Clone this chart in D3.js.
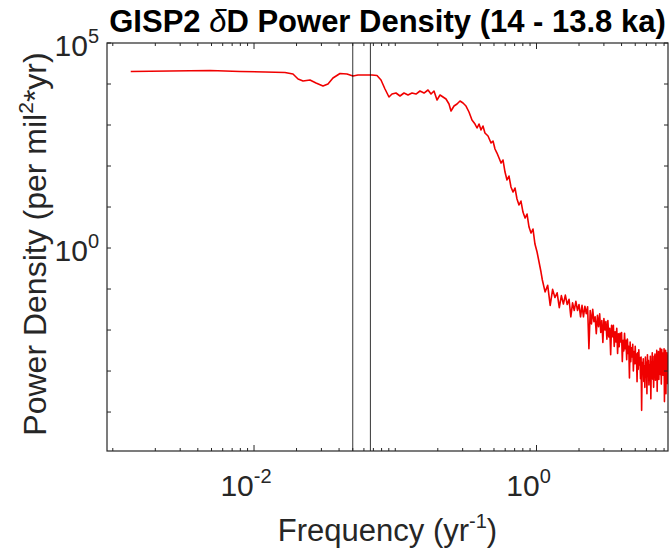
<!DOCTYPE html>
<html>
<head>
<meta charset="utf-8">
<script src="https://cdn.jsdelivr.net/npm/d3@7"></script>
<style>
	body { margin: 0; background: #fff; }
	text { font-family: Arial, "Liberation Sans", Helvetica, sans-serif; fill: #262626; }
</style>
</head>
<body>
<svg id="chart" width="671" height="550"></svg>
<script>
// smooth low-frequency part of the spectrum (yr^-1, per mil^2*yr)
const freqLow = [0.00134, 0.00254, 0.00489, 0.00796, 0.01197, 0.01656, 0.01887, 0.0205, 0.02224, 0.0249,
	0.02746, 0.03078, 0.03339, 0.03622, 0.04062, 0.04552, 0.0502, 0.05447, 0.06107, 0.06846,
	0.07423, 0.07925, 0.08458, 0.09024, 0.09481, 0.1012, 0.108, 0.1153, 0.1231, 0.1313,
	0.1402, 0.1496, 0.1598, 0.1705, 0.1791, 0.188, 0.1975, 0.2074, 0.2178, 0.2287,
	0.2401, 0.2481, 0.2606, 0.2736, 0.2873, 0.3017, 0.3168, 0.3326, 0.3492, 0.3669,
	0.3793, 0.3917, 0.4046, 0.4178, 0.4315, 0.4536, 0.4764, 0.4921, 0.5082, 0.525,
	0.5429, 0.5608, 0.5793, 0.5984, 0.6181, 0.6385, 0.6595, 0.6817, 0.7042, 0.7275,
	0.7515, 0.7762, 0.8018, 0.8298, 0.857, 0.8851, 0.9142, 0.9443, 0.975, 1.009,
	1.042, 1.076];
const powerLow = [20200, 20750, 21340, 20200, 19630, 19050, 17540, 13240, 11830, 12520,
	10570, 8940, 10000, 14000, 18030, 17540, 15670, 16600, 16600, 16600,
	16110, 12520, 7550, 4820, 5700, 6030, 5100, 6030, 5390, 6030,
	5700, 6750, 6030, 7140, 5700, 6750, 4070, 5390, 4820, 4310,
	3250, 2195, 2905, 3250, 3850, 3440, 2905, 2075, 1324, 1057,
	845, 1057, 755, 946, 638, 540, 364, 407, 260, 207,
	157, 118, 140, 71.4, 45.6, 57, 30.8, 23.2, 29.1, 15.7,
	11.2, 14.0, 7.55, 5.39, 6.75, 3.25, 2.32, 2.91, 1.25, 0.80,
	0.456, 0.260];

// noisy high-frequency tail
const freqHigh = [1.10, 1.15, 1.20, 1.25, 1.30, 1.35, 1.40, 1.45, 1.50, 1.55,
	1.60, 1.65, 1.70, 1.75, 1.80, 1.85, 1.90, 1.95, 2.00, 2.05,
	2.10, 2.15, 2.20, 2.25, 2.30, 2.35, 2.40, 2.45, 2.50, 2.55,
	2.60, 2.65, 2.70, 2.75, 2.80, 2.85, 2.90, 2.95, 3.00, 3.05,
	3.10, 3.15, 3.20, 3.25, 3.30, 3.35, 3.40, 3.45, 3.50, 3.55,
	3.60, 3.65, 3.70, 3.75, 3.80, 3.85, 3.90, 3.95, 4.00, 4.05,
	4.10, 4.15, 4.20, 4.25, 4.30, 4.35, 4.40, 4.45, 4.50, 4.55,
	4.60, 4.65, 4.70, 4.75, 4.80, 4.85, 4.90, 4.95, 5.00, 5.05,
	5.10, 5.15, 5.20, 5.25, 5.30, 5.35, 5.40, 5.45, 5.50, 5.55,
	5.60, 5.65, 5.70, 5.75, 5.80, 5.85, 5.90, 5.95, 6.00, 6.05,
	6.10, 6.15, 6.20, 6.25, 6.30, 6.35, 6.40, 6.45, 6.50, 6.55,
	6.60, 6.65, 6.70, 6.75, 6.80, 6.85, 6.90, 6.95, 7.00, 7.05,
	7.10, 7.15, 7.20, 7.25, 7.30, 7.35, 7.40, 7.45, 7.50, 7.55,
	7.60, 7.65, 7.70, 7.75, 7.80, 7.85, 7.90, 7.95, 8.00, 8.05,
	8.10, 8.15, 8.20, 8.25, 8.30, 8.35, 8.40, 8.45, 8.50, 8.55,
	8.60];
const powerHigh = [0.166, 0.085, 0.123, 0.040, 0.098, 0.062, 0.081, 0.035, 0.069, 0.043,
	0.071, 0.042, 0.056, 0.021, 0.046, 0.030, 0.050, 0.030, 0.042, 0.021,
	0.040, 0.021, 0.038, 0.025, 0.037, 0.0035, 0.030, 0.014, 0.032, 0.016,
	0.021, 0.0081, 0.023, 0.012, 0.025, 0.0087, 0.017, 0.0050, 0.019, 0.010,
	0.016, 0.0060, 0.017, 0.0068, 0.011, 0.0025, 0.013, 0.0069, 0.013, 0.0040,
	0.0091, 0.0051, 0.011, 0.0027, 0.0081, 0.0039, 0.0083, 0.0051, 0.0087, 0.0017,
	0.0056, 0.0031, 0.0083, 0.0035, 0.0056, 0.0019, 0.0060, 0.0027, 0.0040, 0.00068,
	0.0051, 0.0017, 0.0037, 0.0022, 0.0045, 0.0010, 0.0030, 0.0015, 0.0040, 0.0015,
	0.0026, 0.00055, 0.0028, 0.0011, 0.0033, 0.0014, 0.0021, 0.00065, 0.0022, 0.00011,
	0.0016, 0.00085, 0.0020, 0.00056, 0.0013, 0.00040, 0.0022, 0.00071, 0.0016, 0.00028,
	0.0025, 0.00089, 0.0018, 0.00046, 0.0014, 0.00066, 0.0023, 0.00021, 0.0017, 0.00087,
	0.0028, 0.00063, 0.0014, 0.00040, 0.0023, 0.0010, 0.0026, 0.00060, 0.0017, 0.00087,
	0.0032, 0.00032, 0.0021, 0.0012, 0.0030, 0.00062, 0.0025, 0.0011, 0.0036, 0.00081,
	0.0021, 0.00048, 0.0034, 0.0011, 0.0028, 0.00079, 0.0020, 0.0010, 0.0035, 0.00018,
	0.0025, 0.00063, 0.0032, 0.00028, 0.0022, 0.00089, 0.0028, 0.00050, 0.0022, 0.0011,
	0.0025];

// band edges marked with thin black lines (1/20 and 1/15 yr^-1)
const markerFreqs = [1 / 20, 1 / 15];

const xLabelTicks = [1e-2, 1e0];
const yLabelTicks = [1e0, 1e5];

const margin = { top: 43, right: 3, bottom: 99, left: 107 },
	width = 671,
	height = 550;

const svg = d3.select('#chart');

const x = d3.scaleLog()
	.domain([0.00091, 8.53])
	.range([margin.left, width - margin.right]);

const y = d3.scaleLog()
	.domain([Math.pow(10, -4.95), 1e5])
	.range([height - margin.bottom, margin.top]);

const [x0, x1] = x.range(),
	[y0, y1] = y.range();

svg.append('defs').append('clipPath')
	.attr('id', 'plotClip')
	.append('rect')
	.attr('x', x0).attr('y', y1)
	.attr('width', x1 - x0).attr('height', y0 - y1);

// spectrum
const series = d3.zip(freqLow, powerLow).concat(d3.zip(freqHigh, powerHigh));

const line = d3.line()
	.x(d => x(d[0]))
	.y(d => y(d[1]));

svg.append('path')
	.datum(series)
	.attr('clip-path', 'url(#plotClip)')
	.attr('fill', 'none')
	.attr('stroke', '#f00000')
	.attr('stroke-width', 1.6)
	.attr('stroke-linejoin', 'round')
	.attr('d', line);

// vertical marker lines
svg.selectAll('line.marker')
	.data(markerFreqs)
	.enter().append('line')
	.attr('class', 'marker')
	.attr('x1', d => x(d)).attr('x2', d => x(d))
	.attr('y1', y0).attr('y2', y1)
	.attr('stroke', '#000')
	.attr('stroke-width', 0.8);

// ticks, inward on all four sides
const xTicks = [];
d3.range(-4, 2).forEach(e => {
	d3.range(1, 10).forEach(k => {
		const v = k * Math.pow(10, e);
		if (v >= x.domain()[0] && v <= x.domain()[1]) xTicks.push(v);
	});
});
const isMajorX = v => xLabelTicks.some(t => Math.abs(t - v) / t < 1e-9);

const yTicks = d3.range(-4, 6).map(e => Math.pow(10, e));

const tickG = svg.append('g')
	.attr('stroke', '#262626')
	.attr('stroke-width', 1);

xTicks.forEach(v => {
	const len = isMajorX(v) ? 6 : 3;
	tickG.append('line')
		.attr('x1', x(v)).attr('x2', x(v))
		.attr('y1', y0).attr('y2', y0 - len);
	tickG.append('line')
		.attr('x1', x(v)).attr('x2', x(v))
		.attr('y1', y1).attr('y2', y1 + len);
});

yTicks.forEach(v => {
	tickG.append('line')
		.attr('x1', x0).attr('x2', x0 + 4)
		.attr('y1', y(v)).attr('y2', y(v));
	tickG.append('line')
		.attr('x1', x1).attr('x2', x1 - 4)
		.attr('y1', y(v)).attr('y2', y(v));
});

// box
svg.append('rect')
	.attr('x', x0).attr('y', y1)
	.attr('width', x1 - x0).attr('height', y0 - y1)
	.attr('fill', 'none')
	.attr('stroke', '#262626')
	.attr('stroke-width', 1.2);

// tick labels as 10^n
const powerLabel = (sel, v) => {
	const n = Math.round(Math.log10(v));
	sel.append('tspan').text('10');
	sel.append('tspan')
		.attr('dy', -13)
		.style('font-size', '20px')
		.text(n);
};

xLabelTicks.forEach(v => {
	svg.append('text')
		.attr('x', x(v) - 8)
		.attr('y', y0 + 45)
		.attr('text-anchor', 'middle')
		.style('font-size', '30px')
		.call(powerLabel, v);
});

yLabelTicks.forEach(v => {
	svg.append('text')
		.attr('x', x0 - 8)
		.attr('y', y(v) + 13)
		.attr('text-anchor', 'end')
		.style('font-size', '30px')
		.call(powerLabel, v);
});

// axis labels
const xLabel = svg.append('text')
	.attr('x', (x0 + x1) / 2)
	.attr('y', 541)
	.attr('text-anchor', 'middle')
	.style('font-size', '31px');
xLabel.append('tspan').text('Frequency (yr');
xLabel.append('tspan').attr('dy', -13).style('font-size', '20px').text('-1');
xLabel.append('tspan').attr('dy', 13).text(')');

const yLabel = svg.append('text')
	.attr('transform', `translate(46,${(y0 + y1) / 2 - 3}) rotate(-90)`)
	.attr('text-anchor', 'middle')
	.style('font-size', '32px');
yLabel.append('tspan').text('Power Density (per mil');
yLabel.append('tspan').attr('dy', -13).style('font-size', '21px').text('2');
yLabel.append('tspan').attr('dy', 13).text('*yr)');

// title
const title = svg.append('text')
	.attr('x', (x0 + x1) / 2)
	.attr('y', 32)
	.attr('text-anchor', 'middle')
	.style('font-size', '31px')
	.style('font-weight', 'bold')
	.style('fill', '#000');
title.append('tspan').text('GISP2 ');
title.append('tspan').style('font-style', 'italic').style('font-weight', 'normal').text('δ');
title.append('tspan').text('D Power Density (14 - 13.8 ka)');
</script>
</body>
</html>
